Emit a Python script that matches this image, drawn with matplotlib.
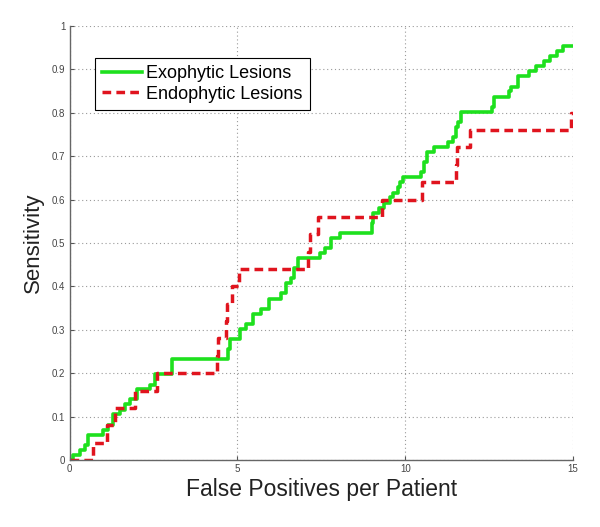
import matplotlib
matplotlib.use("Agg")
import matplotlib.pyplot as plt

plt.rcParams['font.family'] = ['Liberation Sans', 'DejaVu Sans']

# step curves (x = start of each step, y = sensitivity)
exo_x = [0, 0.1, 0.3, 0.45, 0.55, 1.0, 1.15, 1.3, 1.5, 1.65, 1.8, 2.0, 2.4, 2.55,
         3.05, 4.72, 4.78, 5.07, 5.25, 5.45, 5.7, 5.95, 6.3, 6.45, 6.6, 6.7, 6.8,
         7.45, 7.6, 7.8, 8.05, 9.0, 9.05, 9.23, 9.38, 9.55, 9.65, 9.78, 9.85, 9.92,
         10.48, 10.55, 10.66, 10.85, 11.28, 11.42, 11.5, 11.58, 11.67, 12.6, 12.66,
         13.08, 13.15, 13.35, 13.68, 13.9, 14.14, 14.3, 14.53, 14.69, 15]
exo_y = [0, 0.012, 0.023, 0.035, 0.058, 0.07, 0.081, 0.105, 0.116, 0.128, 0.14, 0.163, 0.174, 0.198,
         0.233, 0.256, 0.279, 0.302, 0.314, 0.337, 0.349, 0.372, 0.384, 0.407, 0.419, 0.442, 0.465,
         0.477, 0.488, 0.512, 0.523, 0.547, 0.570, 0.581, 0.593, 0.605, 0.616, 0.628, 0.640, 0.651,
         0.663, 0.686, 0.709, 0.721, 0.733, 0.744, 0.767, 0.779, 0.802, 0.814, 0.837,
         0.849, 0.860, 0.884, 0.895, 0.907, 0.919, 0.930, 0.942, 0.953, 0.953]

endo_x = [0, 0.7, 1.1, 1.35, 1.95, 2.6, 4.4, 4.42, 4.65, 4.7, 4.85, 5.05, 7.1, 7.15,
          7.4, 9.3, 10.5, 11.5, 11.55, 11.93, 14.95, 15]
endo_y = [0, 0.04, 0.08, 0.12, 0.16, 0.2, 0.24, 0.28, 0.32, 0.36, 0.40, 0.44, 0.48, 0.52,
          0.56, 0.6, 0.64, 0.68, 0.72, 0.76, 0.8, 0.8]

x_ticks = [0, 5, 10, 15]
y_ticks = [0, 0.1, 0.2, 0.3, 0.4, 0.5, 0.6, 0.7, 0.8, 0.9, 1]
y_tick_labels = ['0', '0.1', '0.2', '0.3', '0.4', '0.5', '0.6', '0.7', '0.8', '0.9', '1']

fig = plt.figure(figsize=(6, 5.27), dpi=100)
ax = fig.add_axes([0.116, 0.127, 0.839, 0.824])

ax.plot(exo_x, exo_y, drawstyle='steps-post', color='#1ee01e', linewidth=2.6,
        label='Exophytic Lesions')
ax.plot(endo_x, endo_y, drawstyle='steps-post', color='#e0141e', linewidth=2.5,
        dashes=(2.5, 1.5), label='Endophytic Lesions')

ax.set_xlim(0, 15)
ax.set_ylim(0, 1)
ax.set_xticks(x_ticks)
ax.set_yticks(y_ticks)
ax.set_yticklabels(y_tick_labels)
ax.tick_params(direction='in', length=3, width=0.8, colors='#555555', labelsize=7,
               labelcolor='#444444', pad=3)
ax.grid(True, linestyle=(0, (1, 2.5)), color='#9a9a9a', linewidth=0.8)

for side in ['top', 'right']:
    ax.spines[side].set_visible(False)
for side in ['left', 'bottom']:
    ax.spines[side].set_color('#666666')
    ax.spines[side].set_linewidth(1.0)

ax.set_xlabel('False Positives per Patient', fontsize=16.5, color='#222222', labelpad=3)
ax.set_ylabel('Sensitivity', fontsize=16, color='#222222', labelpad=6)

leg = ax.legend(loc='upper left', bbox_to_anchor=(0.05, 0.926), borderaxespad=0,
                fontsize=13, fancybox=False, framealpha=1, edgecolor='black',
                handlelength=2.2, handletextpad=0.25, borderpad=0.4, labelspacing=0.2)
leg.get_frame().set_linewidth(0.8)

fig.savefig('out.png', dpi=100)
